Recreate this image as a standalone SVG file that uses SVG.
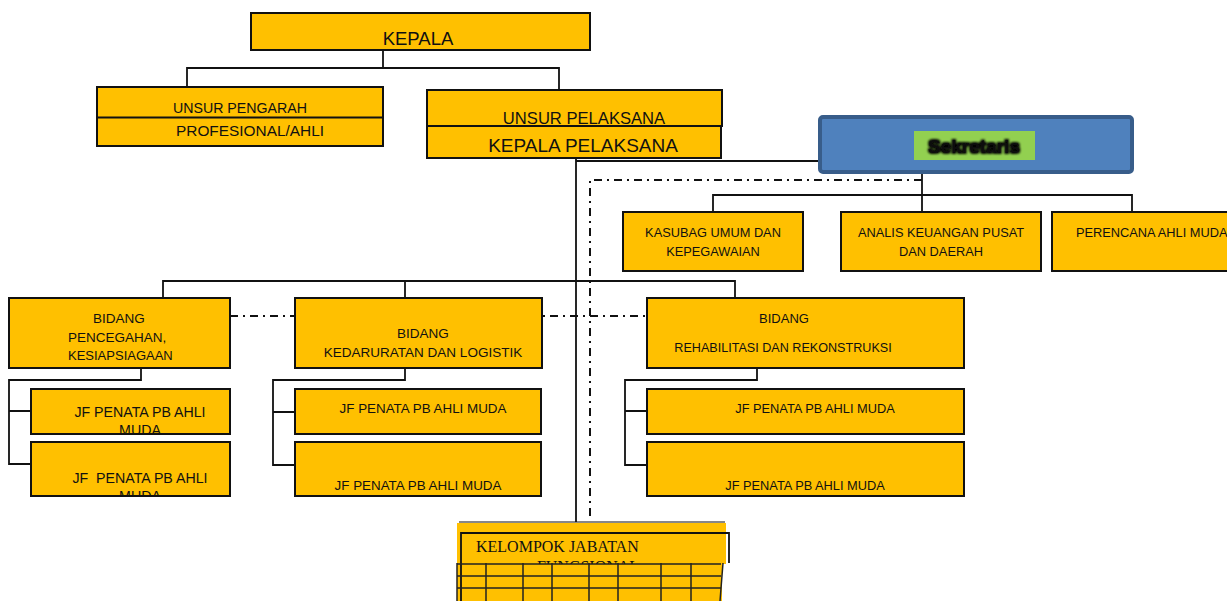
<svg xmlns="http://www.w3.org/2000/svg" width="1227" height="601" viewBox="0 0 1227 601">
<style>
.box{fill:#FFC000;stroke:#111;stroke-width:2}
.ln{fill:none;stroke:#111;stroke-width:1.8}
.dd{fill:none;stroke:#111;stroke-width:2;stroke-dasharray:8,5,2,5}
.t{font-family:"Liberation Sans",Arial,sans-serif;fill:#111}
.m{text-anchor:middle}
.s{font-family:"Liberation Serif","Times New Roman",serif;fill:#111}
.g{fill:none;stroke:#222;stroke-width:1.5}
</style>
<defs>
<filter id="glow" x="-20%" y="-40%" width="140%" height="180%">
<feMorphology in="SourceAlpha" operator="dilate" radius="1" result="d"/>
<feGaussianBlur in="d" stdDeviation="0.9" result="b"/>
<feMerge><feMergeNode in="b"/><feMergeNode in="SourceGraphic"/></feMerge>
</filter>
<clipPath id="c1"><rect x="31" y="389" width="199" height="45"/></clipPath>
<clipPath id="c2"><rect x="31" y="442" width="199" height="54"/></clipPath>
<clipPath id="c3"><rect x="457" y="522" width="270" height="42"/></clipPath>
</defs>

<g id="connectors">
<path class="ln" d="M383,50 V68 M187,88 V68 H559 V90"/>
<path class="ln" d="M576,158 V522 M576,161 H819"/>
<path class="ln" d="M922,173 V212 M713,212 V195 H1132 V212"/>
<path class="ln" d="M163,297 V281 H735 V297 M405,281 V297"/>
<path class="ln" d="M141,368 V380 H9 V464 H31 M9,411 H31"/>
<path class="ln" d="M405,368 V380 H273 V465 H295 M273,412 H295"/>
<path class="ln" d="M757,368 V380 H625 V465 H647 M625,411 H647"/>
<path class="dd" d="M922,180 H590 V518"/>
<path class="dd" d="M230,316 H647"/>
</g>

<g id="kepala">
<rect class="box" x="251" y="13" width="339" height="37"/>
<text class="t m" x="418" y="45" font-size="18.5">KEPALA</text>
</g>

<g id="unsur-pengarah">
<rect class="box" x="97" y="87" width="286" height="59"/>
<line x1="97" y1="117.5" x2="383" y2="117.5" stroke="#111" stroke-width="2"/>
<text class="t m" x="240" y="113" font-size="14.2">UNSUR PENGARAH</text>
<text class="t m" x="250" y="136" font-size="15.4">PROFESIONAL/AHLI</text>
</g>

<g id="unsur-pelaksana">
<rect class="box" x="427" y="90" width="295" height="36"/>
<rect class="box" x="427" y="126" width="294" height="32"/>
<text class="t m" x="584" y="124" font-size="16.6">UNSUR PELAKSANA</text>
<text class="t m" x="583" y="152" font-size="19">KEPALA PELAKSANA</text>
</g>

<g id="sekretaris">
<rect x="820" y="117" width="312" height="55" rx="3" fill="#4F81BD" stroke="#385D8A" stroke-width="4"/>
<rect x="914" y="131" width="121" height="29" fill="#92D050"/>
<text class="t m" x="974" y="153" font-size="19" font-weight="bold" filter="url(#glow)">Sekretaris</text>
</g>

<g id="kasubag">
<rect class="box" x="623" y="212" width="180" height="59"/>
<text class="t m" x="713" y="237" font-size="12.8">KASUBAG UMUM DAN</text>
<text class="t m" x="713" y="256" font-size="12.8">KEPEGAWAIAN</text>
</g>

<g id="analis">
<rect class="box" x="841" y="212" width="200" height="59"/>
<text class="t m" x="941" y="237" font-size="12.8">ANALIS KEUANGAN PUSAT</text>
<text class="t m" x="941" y="256" font-size="12.8">DAN DAERAH</text>
</g>

<g id="perencana">
<rect class="box" x="1052" y="212" width="190" height="59"/>
<text class="t" x="1076" y="237" font-size="12.8">PERENCANA AHLI MUDA</text>
</g>

<g id="bidang-pencegahan">
<rect class="box" x="9" y="298" width="221" height="70"/>
<text class="t m" x="119" y="323" font-size="13.5">BIDANG</text>
<text class="t" x="68" y="342" font-size="13.5">PENCEGAHAN,</text>
<text class="t" x="68" y="360" font-size="13">KESIAPSIAGAAN</text>
</g>

<g id="jf-pencegahan-1">
<rect class="box" x="31" y="389" width="199" height="45"/>
<g clip-path="url(#c1)">
<text class="t m" x="140" y="417" font-size="14.2">JF PENATA PB AHLI</text>
<text class="t m" x="140" y="435" font-size="14.2">MUDA</text>
</g>
</g>

<g id="jf-pencegahan-2">
<rect class="box" x="31" y="442" width="199" height="54"/>
<g clip-path="url(#c2)">
<text class="t m" x="140" y="483" font-size="14.2" xml:space="preserve">JF  PENATA PB AHLI</text>
<text class="t m" x="140" y="501" font-size="14.2">MUDA</text>
</g>
</g>

<g id="bidang-kedaruratan">
<rect class="box" x="295" y="298" width="247" height="70"/>
<text class="t m" x="423" y="338" font-size="13.5">BIDANG</text>
<text class="t m" x="423" y="357" font-size="13.5">KEDARURATAN DAN LOGISTIK</text>
</g>

<g id="jf-kedaruratan-1">
<rect class="box" x="295" y="389" width="246" height="45"/>
<text class="t m" x="423" y="413" font-size="13.4">JF PENATA PB AHLI MUDA</text>
</g>

<g id="jf-kedaruratan-2">
<rect class="box" x="295" y="442" width="246" height="54"/>
<text class="t m" x="418" y="490" font-size="13.4">JF PENATA PB AHLI MUDA</text>
</g>

<g id="bidang-rehabilitasi">
<rect class="box" x="647" y="298" width="317" height="70"/>
<text class="t m" x="784" y="323" font-size="13">BIDANG</text>
<text class="t m" x="783" y="352" font-size="12.6">REHABILITASI DAN REKONSTRUKSI</text>
</g>

<g id="jf-rehabilitasi-1">
<rect class="box" x="647" y="389" width="317" height="45"/>
<text class="t m" x="815" y="413" font-size="12.8">JF PENATA PB AHLI MUDA</text>
</g>

<g id="jf-rehabilitasi-2">
<rect class="box" x="647" y="442" width="317" height="54"/>
<text class="t m" x="805" y="490" font-size="12.8">JF PENATA PB AHLI MUDA</text>
</g>

<g id="kelompok-jabatan-fungsional">
<rect x="457" y="523" width="269" height="41" fill="#FFC000"/>
<rect x="457" y="563" width="265" height="38" fill="#FFC000"/>
<line x1="459" y1="522" x2="725" y2="522" stroke="#111" stroke-width="1.2"/>
<path class="ln" d="M461,601 V533 H729 V563" stroke-width="1.2"/>
<g clip-path="url(#c3)">
<text class="s" x="476" y="552" font-size="16">KELOMPOK JABATAN</text>
<text class="s m" x="588" y="572" font-size="16">FUNGSIONAL</text>
</g>
<path class="g" d="M457,564 H721 M457,576 H721 M457,588 H721 M457,563 V601 M486,563 V601 M523,563 V601 M552,563 V601 M589,563 V601 M618,563 V601 M661,563 V601 M691,563 V601 M723,563 L720,601"/>
</g>
</svg>
